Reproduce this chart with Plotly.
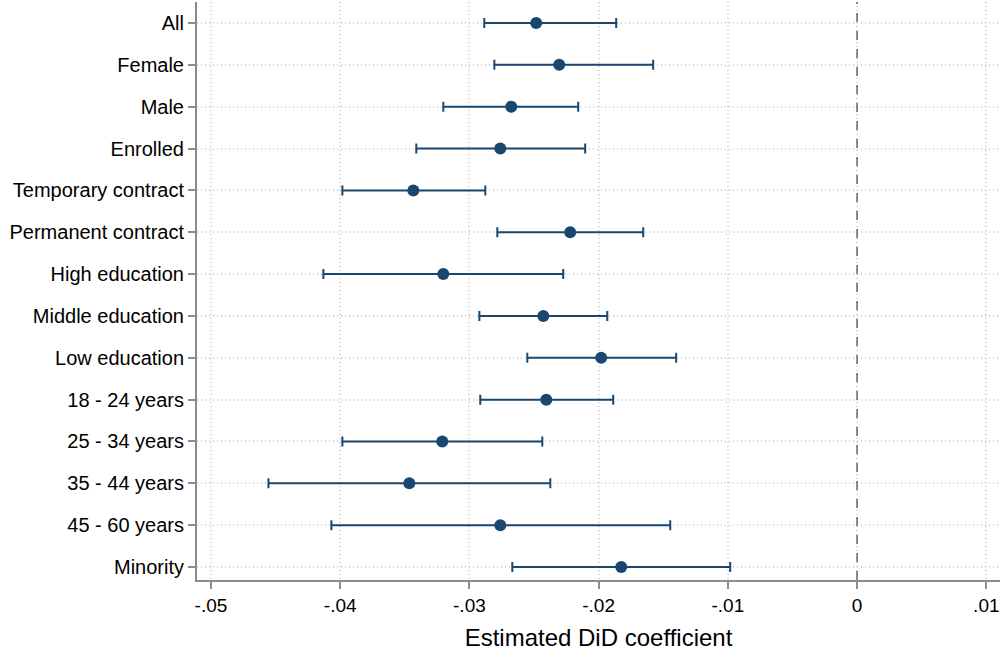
import plotly.graph_objects as go

categories = ["All", "Female", "Male", "Enrolled", "Temporary contract", "Permanent contract",
              "High education", "Middle education", "Low education", "18 - 24 years",
              "25 - 34 years", "35 - 44 years", "45 - 60 years", "Minority"]
estimates = [-0.02483, -0.02305, -0.02676, -0.02761, -0.03434, -0.02220, -0.03202,
             -0.02428, -0.01980, -0.02405, -0.03210, -0.03465, -0.02761, -0.01825]
ci_low = [-0.02885, -0.02807, -0.03202, -0.03411, -0.03983, -0.02784, -0.04130,
          -0.02923, -0.02552, -0.02916, -0.03983, -0.04555, -0.04068, -0.02668]
ci_high = [-0.01864, -0.01578, -0.02158, -0.02104, -0.02877, -0.01655, -0.02274,
           -0.01933, -0.01400, -0.01887, -0.02436, -0.02374, -0.01446, -0.00982]
x_ticks = [-0.05, -0.04, -0.03, -0.02, -0.01, 0, 0.01]
x_tick_labels = ["-.05", "-.04", "-.03", "-.02", "-.01", "0", ".01"]

navy = "#1a476f"
idx = list(range(len(categories)))

fig = go.Figure()
fig.add_trace(go.Scatter(
    x=estimates, y=idx, mode="markers",
    marker=dict(color=navy, size=12),
    error_x=dict(type="data", symmetric=False,
                 array=[h - e for h, e in zip(ci_high, estimates)],
                 arrayminus=[e - l for e, l in zip(estimates, ci_low)],
                 color=navy, thickness=2, width=5),
    showlegend=False,
))

fig.add_vline(x=0, line=dict(color="#666666", width=1.5, dash="dash"))

fig.update_layout(
    width=1004, height=652,
    margin=dict(l=197, r=4, t=2, b=72, autoexpand=False),
    plot_bgcolor="white", paper_bgcolor="white",
    font=dict(family="Liberation Sans, Arial, sans-serif", size=19, color="black"),
    xaxis=dict(
        range=[-0.05108, 0.01106],
        tickvals=x_ticks, ticktext=x_tick_labels,
        showgrid=True, gridcolor="#d2d2d2", griddash="1px,3px", gridwidth=1.5,
        zeroline=False, automargin=False,
        showline=True, linecolor="#8c8c8c", linewidth=2,
        ticks="outside", ticklen=7, tickcolor="#8c8c8c", tickwidth=1.5,
        title=dict(text="Estimated DiD coefficient", font=dict(size=24), standoff=14),
    ),
    yaxis=dict(
        range=[13.31, -0.502],
        tickvals=idx, ticktext=categories, tickfont=dict(size=20),
        showgrid=True, gridcolor="#d2d2d2", griddash="1px,3px", gridwidth=1.5,
        zeroline=False, automargin=False,
        showline=True, linecolor="#8c8c8c", linewidth=2,
        ticks="outside", ticklen=7, tickcolor="#8c8c8c", tickwidth=1.5,
    ),
)

fig.write_html("out.html", config={"displayModeBar": False},
               post_script="document.body.style.margin='0';")
